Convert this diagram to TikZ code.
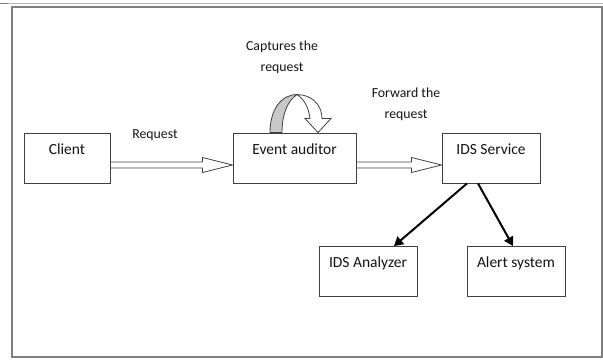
\documentclass[tikz,border=0pt]{standalone}
\usepackage{fontspec}
\setmainfont{Carlito}
\usetikzlibrary{arrows.meta,calc}

\definecolor{framegray}{HTML}{7F7F7F}
\definecolor{rulegray}{HTML}{B4B4B4}
\definecolor{edge}{HTML}{404040}
\definecolor{ink}{HTML}{141414}
\definecolor{bandgray}{HTML}{C8C8C8}

\tikzset{
  box/.style={draw=edge, line width=0.9pt, fill=white, inner sep=0pt,
    text height=21pt, text depth=29pt, align=center, text=ink,
    font=\fontsize{15.5}{18}\selectfont},
  caption/.style={align=center, text=ink, inner sep=0pt,
    font=\fontsize{13.8}{21}\selectfont},
  blockarrow/.style={draw=edge, fill=white, line width=0.8pt,
    to path={let \p1=(\tikztostart), \p2=(\tikztotarget) in
      (\x1,\y1+3pt) -- (\x2-30pt,\y1+3pt) -- (\x2-30pt,\y1+7.5pt) --
      (\x2,\y1) -- (\x2-30pt,\y1-7.5pt) -- (\x2-30pt,\y1-3pt) --
      (\x1,\y1-3pt) -- cycle}},
  flow/.style={draw=black, line width=2pt,
    -{Triangle[length=9pt,width=10pt]}}
}

\begin{document}
\begin{tikzpicture}[x=1pt,y=-1pt]
  \useasboundingbox (0,0) rectangle (603,360);

  % page rules and outer frame
  \draw[rulegray, line width=1pt] (0,3.5) -- (603,3.5);
  \draw[framegray, line width=1.5pt] (0,3.5) -- (8,3.5);
  \draw[framegray, line width=1.5pt] (12,7) rectangle (602,357);

  % boxes
  \node[box, minimum width=86pt]  (client)   at (67,158)    {Client};
  \node[box, minimum width=123pt] (auditor)  at (294.5,158) {Event auditor};
  \node[box, minimum width=98pt]  (service)  at (491,158)   {IDS Service};
  \node[box, minimum width=98pt]  (analyzer) at (368,271.5) {IDS Analyzer};
  \node[box, minimum width=98pt]  (alert)    at (516,271.5) {Alert system};

  % labels
  \node[caption] (lblrequest) at (155,135) {Request};
  \node[caption] (lblcapture) at (282,57.5) {Captures the\\request};
  \node[caption] (lblforward) at (406,104.5) {Forward the\\request};

  % hollow block arrows along the request path
  \coordinate (c1) at ($(client.east)+(0,7)$);
  \coordinate (a1) at ($(auditor.west)+(0,7)$);
  \coordinate (a2) at ($(auditor.east)+(0,7)$);
  \coordinate (s1) at ($(service.west)+(0,7)$);
  \path[blockarrow] (c1) to (a1);
  \path[blockarrow] (a2) to (s1);
  \draw[edge, line width=0.9pt] (client.north east) -- (client.south east);
  \draw[edge, line width=0.9pt] (auditor.north east) -- (auditor.south east);

  % curved arrow on top of the event auditor
  \begin{scope}[shift={(auditor.north)}]
    \draw[edge, fill=bandgray, line width=0.8pt]
      (-24.5,0) .. controls (-24.5,-22) and (-14,-38) .. (2.5,-38)
      .. controls (-7,-32) and (-12.5,-18) .. (-12.5,0) -- cycle;
    \draw[edge, fill=white, line width=0.8pt]
      (2.5,-38) .. controls (17,-38) and (27.5,-28) .. (27.5,-14)
      -- (36.5,-14) -- (23.5,0) -- (10.5,-14) -- (15.5,-14)
      .. controls (14,-26) and (9,-34) .. (2.5,-38) -- cycle;
  \end{scope}

  % service to analyzer and alert system
  \draw[flow] ($(service.south)+(-24,0)$) -- ($(analyzer.north)+(26,0)$);
  \draw[flow] ($(service.south)+(-13,0)$) -- ($(alert.north)+(-3,0)$);
\end{tikzpicture}
\end{document}
